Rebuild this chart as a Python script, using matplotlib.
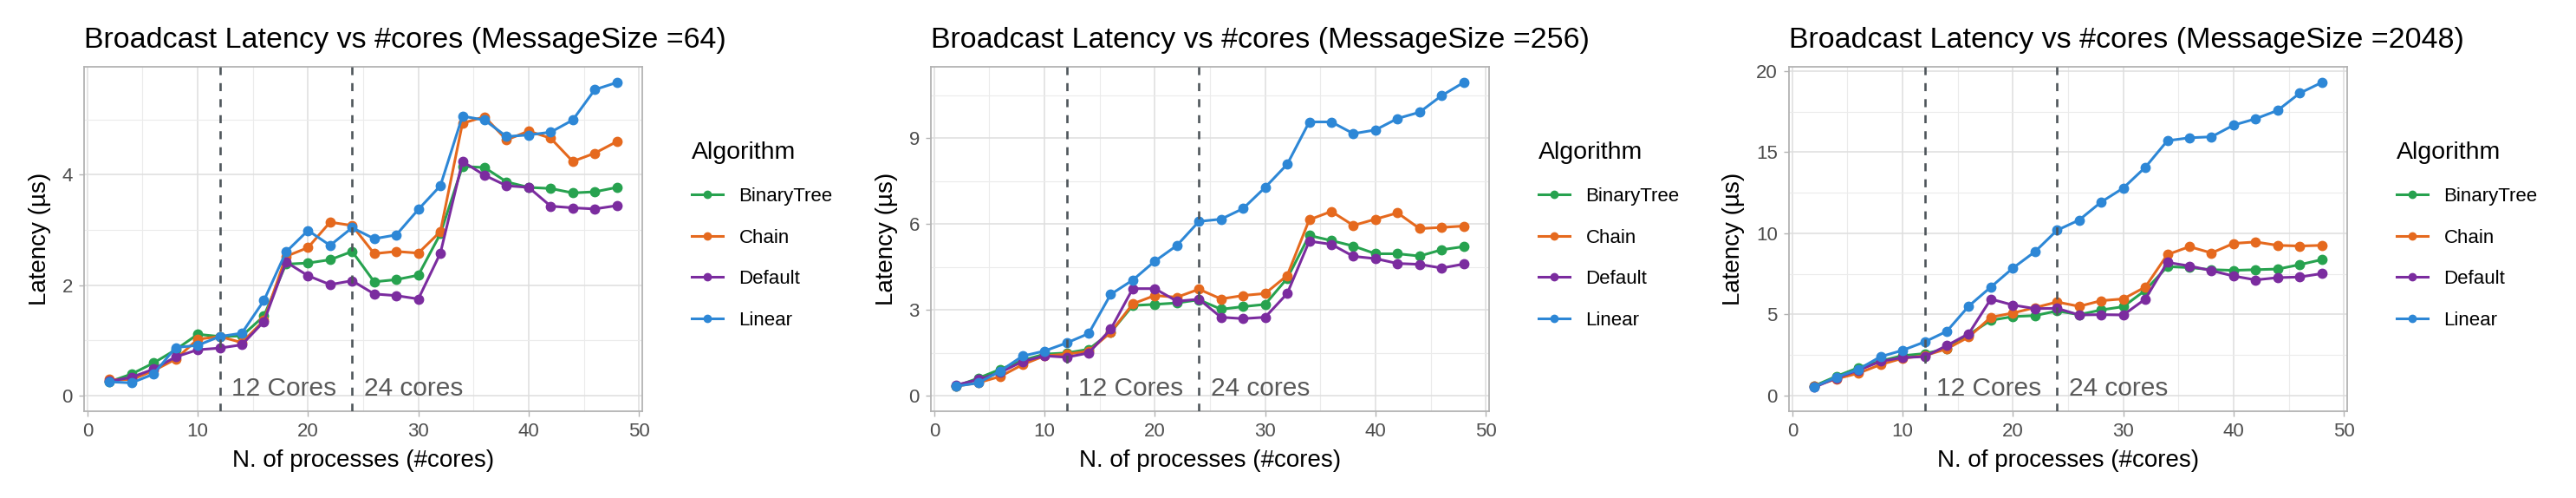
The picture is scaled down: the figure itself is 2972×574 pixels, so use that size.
import matplotlib.pyplot as plt
from matplotlib.ticker import MultipleLocator

plt.rcParams['font.family'] = ['Liberation Sans', 'DejaVu Sans']

cores = [2, 4, 6, 8, 10, 12, 14, 16, 18, 20, 22, 24,
         26, 28, 30, 32, 34, 36, 38, 40, 42, 44, 46, 48]
algorithms = ["BinaryTree", "Chain", "Default", "Linear"]
colors = ["#27a24f", "#e5691e", "#7b2c9f", "#2d87d6"]
msg_sizes = [64, 256, 2048]

# latency (us) per message size
lat_64 = {
    "BinaryTree": [0.25, 0.39, 0.59, 0.83, 1.11, 1.07, 1.08, 1.44, 2.38, 2.40, 2.46, 2.61,
                   2.06, 2.10, 2.18, 2.93, 4.15, 4.13, 3.87, 3.77, 3.75, 3.67, 3.69, 3.77],
    "Chain": [0.29, 0.29, 0.45, 0.66, 1.02, 1.07, 0.96, 1.36, 2.52, 2.68, 3.14, 3.08,
              2.57, 2.61, 2.58, 2.97, 4.93, 5.05, 4.63, 4.79, 4.66, 4.24, 4.39, 4.60],
    "Default": [0.26, 0.33, 0.48, 0.70, 0.83, 0.86, 0.92, 1.34, 2.42, 2.17, 2.01, 2.08,
                1.84, 1.81, 1.75, 2.58, 4.24, 3.99, 3.80, 3.77, 3.43, 3.40, 3.38, 3.44],
    "Linear": [0.25, 0.23, 0.39, 0.87, 0.91, 1.07, 1.13, 1.72, 2.60, 2.99, 2.72, 3.04,
               2.84, 2.91, 3.37, 3.80, 5.06, 4.99, 4.69, 4.72, 4.77, 4.99, 5.54, 5.67],
}
lat_256 = {
    "BinaryTree": [0.33, 0.61, 0.92, 1.23, 1.45, 1.49, 1.62, 2.21, 3.15, 3.19, 3.24, 3.35,
                   3.02, 3.11, 3.19, 4.10, 5.60, 5.42, 5.23, 4.96, 4.96, 4.88, 5.10, 5.21],
    "Chain": [0.33, 0.45, 0.67, 1.08, 1.39, 1.45, 1.55, 2.21, 3.21, 3.50, 3.44, 3.72,
              3.38, 3.50, 3.57, 4.20, 6.15, 6.44, 5.95, 6.17, 6.39, 5.84, 5.88, 5.93],
    "Default": [0.37, 0.56, 0.81, 1.19, 1.39, 1.34, 1.49, 2.32, 3.74, 3.74, 3.30, 3.37,
                2.74, 2.69, 2.74, 3.57, 5.40, 5.29, 4.87, 4.79, 4.62, 4.59, 4.46, 4.60],
    "Linear": [0.33, 0.44, 0.86, 1.38, 1.56, 1.84, 2.17, 3.54, 4.04, 4.70, 5.25, 6.09,
               6.17, 6.54, 7.28, 8.09, 9.57, 9.57, 9.16, 9.29, 9.69, 9.91, 10.49, 10.95],
}
lat_2048 = {
    "BinaryTree": [0.60, 1.19, 1.72, 2.14, 2.46, 2.59, 2.88, 3.76, 4.64, 4.87, 4.93, 5.22,
                   4.99, 5.28, 5.48, 6.49, 7.95, 7.89, 7.76, 7.72, 7.76, 7.80, 8.07, 8.38],
    "Chain": [0.58, 1.03, 1.38, 1.91, 2.30, 2.46, 2.88, 3.61, 4.83, 5.09, 5.42, 5.77,
              5.50, 5.85, 5.96, 6.69, 8.69, 9.18, 8.79, 9.38, 9.47, 9.26, 9.22, 9.26],
    "Default": [0.51, 1.09, 1.56, 2.11, 2.34, 2.40, 3.08, 3.82, 5.95, 5.58, 5.36, 5.38,
                4.97, 4.99, 4.97, 5.95, 8.21, 7.99, 7.70, 7.37, 7.13, 7.27, 7.31, 7.52],
    "Linear": [0.55, 1.13, 1.62, 2.40, 2.79, 3.31, 3.96, 5.52, 6.69, 7.86, 8.87, 10.19,
               10.82, 11.93, 12.79, 14.07, 15.71, 15.89, 15.95, 16.67, 17.06, 17.58, 18.64, 19.30],
}
all_lat = [lat_64, lat_256, lat_2048]
y_steps = [2, 3, 5]
core_marks = [12, 24]
core_texts = ["12 Cores", "24 cores"]

W, H = 2972, 574
fig = plt.figure(figsize=(W / 100, H / 100), dpi=100)
panel_left = [97, 1074, 2064]
panel_w = 644
panel_top, panel_bot = 77, 474

for i, (size, lat) in enumerate(zip(msg_sizes, all_lat)):
    ax = fig.add_axes([panel_left[i] / W, 1 - panel_bot / H,
                       panel_w / W, (panel_bot - panel_top) / H])
    for name, c in zip(algorithms, colors):
        ax.plot(cores, lat[name], color=c, lw=2.2, marker='o', ms=7.5,
                label=name, zorder=3)
    for xc, txt in zip(core_marks, core_texts):
        ax.axvline(xc, color='#4f565b', lw=1.9, ls=(0, (3.5, 3.5)), zorder=4)
        ax.annotate(txt, xy=(xc, 0), xytext=(10, 0), textcoords='offset points',
                    ha='left', va='baseline', fontsize=21.5, color='#595959')

    ymax = max(max(v) for v in lat.values())
    pad = ymax * 0.05
    ax.set_ylim(-pad, ymax + pad)
    ax.set_xlim(-0.3, 50.3)
    ax.xaxis.set_major_locator(MultipleLocator(10))
    ax.xaxis.set_minor_locator(MultipleLocator(5))
    ax.yaxis.set_major_locator(MultipleLocator(y_steps[i]))
    ax.yaxis.set_minor_locator(MultipleLocator(y_steps[i] / 2))
    ax.grid(which='major', color='#dedede', lw=1.1, zorder=0)
    ax.grid(which='minor', color='#ebebeb', lw=0.8, zorder=0)
    ax.set_axisbelow(True)
    for sp in ax.spines.values():
        sp.set_color('#b3b3b3')
        sp.set_linewidth(1.3)
    ax.tick_params(which='major', length=4.5, width=1, color='#b3b3b3',
                   labelsize=16, labelcolor='#4d4d4d', pad=5)
    ax.tick_params(which='minor', length=0)

    ax.set_title("Broadcast Latency vs #cores (MessageSize ={})".format(size),
                 loc='left', fontsize=24.5, pad=16)
    ax.set_xlabel("N. of processes (#cores)", fontsize=20, labelpad=7)
    ax.set_ylabel("Latency (µs)", fontsize=20, labelpad=9)

    leg = ax.legend(title="Algorithm", loc='center left',
                    bbox_to_anchor=(1 + 46 / panel_w, 0.51), frameon=False,
                    fontsize=16, title_fontsize=20.5, borderpad=0,
                    handlelength=1.6, handletextpad=0.85, labelspacing=1.2,
                    markerscale=0.8, alignment='left')

fig.savefig("out.png", dpi=100)
